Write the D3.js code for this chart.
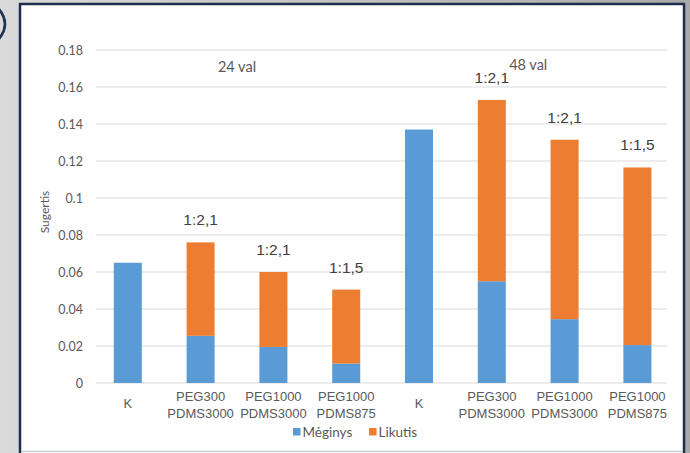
<!DOCTYPE html>
<html>
<head>
<meta charset="utf-8">
<script src="https://cdn.jsdelivr.net/npm/d3@7"></script>
<style>
  html, body { margin: 0; padding: 0; background: #d6d6d6; }
  svg { display: block; }
</style>
</head>
<body>
<svg id="chart" width="690" height="453"></svg>
<script>
// Categories (two-line axis labels) for the 24 h and 48 h groups
const categories = [
  ["K"], ["PEG300", "PDMS3000"], ["PEG1000", "PDMS3000"], ["PEG1000", "PDMS875"],
  ["K"], ["PEG300", "PDMS3000"], ["PEG1000", "PDMS3000"], ["PEG1000", "PDMS875"]
];
const categoryIds = ["K24", "P300_3000_24", "P1000_3000_24", "P1000_875_24",
                     "K48", "P300_3000_48", "P1000_3000_48", "P1000_875_48"];

// Stacked series
const meginys = [0.065, 0.0255, 0.0195, 0.0105, 0.137, 0.055, 0.0345, 0.0205];
const likutis = [0, 0.0505, 0.0405, 0.040, 0, 0.098, 0.097, 0.096];

// Ratio annotations above bars
const ratioLabels = ["", "1:2,1", "1:2,1", "1:1,5", "", "1:2,1", "1:2,1", "1:1,5"];

// Group titles and the two categories they sit between
const groupLabels = ["24 val", "48 val"];
const groupAnchors = [[1, 2], [5, 6]];

const seriesNames = ["Mėginys", "Likutis"];
const seriesColors = ["#5b9bd5", "#ed7d31"];

const yTicks = [0, 0.02, 0.04, 0.06, 0.08, 0.1, 0.12, 0.14, 0.16, 0.18];
const yTickLabels = ["0", "0.02", "0.04", "0.06", "0.08", "0.1", "0.12", "0.14", "0.16", "0.18"];

const svg = d3.select("#chart");
const W = 690, H = 453;

// Slide background
const defs = svg.append("defs");
const bg = defs.append("linearGradient").attr("id", "bg").attr("x1", 0).attr("x2", 1).attr("y1", 0).attr("y2", 0);
bg.append("stop").attr("offset", 0).attr("stop-color", "#dadada");
bg.append("stop").attr("offset", 1).attr("stop-color", "#a9a9a9");
svg.append("rect").attr("width", W).attr("height", H).attr("fill", "url(#bg)");

// Edge of a closing bracket from the neighbouring slide content
svg.append("path")
  .attr("d", "M-2,8 Q12,24 -2,40")
  .attr("fill", "none").attr("stroke", "#1f3350").attr("stroke-width", 2.6);

// Panel
svg.append("rect").attr("x", 20).attr("y", 4).attr("width", 664).attr("height", 460)
  .attr("fill", "#ffffff").attr("stroke", "#1c2f4c").attr("stroke-width", 2.5);
svg.append("line").attr("x1", 22).attr("x2", 682).attr("y1", 451.5).attr("y2", 451.5)
  .attr("stroke", "#c9ced6").attr("stroke-width", 1.5);

// Scales
const x = d3.scaleBand().domain(categoryIds).range([91.4, 673.8]).paddingInner(0.615).paddingOuter(0.3075);
const y = d3.scaleLinear().domain([0, 0.18]).range([383, 50]);

const gridX0 = 96, gridX1 = 667;

// Gridlines
svg.append("g").selectAll("line").data(yTicks).join("line")
  .attr("x1", gridX0).attr("x2", gridX1)
  .attr("y1", d => y(d)).attr("y2", d => y(d))
  .attr("stroke", "#d9d9d9").attr("stroke-width", 1.2);

// Y axis labels
const yAxis = d3.axisLeft(y).tickValues(yTicks).tickSize(0).tickPadding(0)
  .tickFormat((d, i) => yTickLabels[i]);
const yg = svg.append("g").attr("transform", "translate(83,0)").call(yAxis);
yg.select(".domain").remove();
yg.selectAll("text").attr("font-family", "Lato, sans-serif").attr("font-size", 12.5)
  .attr("fill", "#595959");

// Y axis title
svg.append("text").attr("transform", "translate(49,212) rotate(-90)")
  .attr("text-anchor", "middle").attr("font-family", "Lato, sans-serif")
  .attr("font-size", 12).attr("fill", "#595959").text("Sugertis");

// Stacked bars
const rows = categoryIds.map((id, i) => ({ id, Mėginys: meginys[i], Likutis: likutis[i] }));
const stacked = d3.stack().keys(seriesNames)(rows);
svg.append("g").selectAll("g").data(stacked).join("g")
  .attr("fill", (d, i) => seriesColors[i])
  .selectAll("rect").data(d => d).join("rect")
  .attr("x", d => x(d.data.id))
  .attr("width", x.bandwidth())
  .attr("y", d => y(d[1]))
  .attr("height", d => y(d[0]) - y(d[1]));

// Ratio labels above stacked totals
svg.append("g").selectAll("text").data(categoryIds).join("text")
  .attr("x", d => x(d) + x.bandwidth() / 2)
  .attr("y", (d, i) => y(meginys[i] + likutis[i]) - 17)
  .attr("text-anchor", "middle")
  .attr("font-family", "Liberation Sans, Arial, sans-serif").attr("font-size", 15.5)
  .attr("fill", "#404040")
  .text((d, i) => ratioLabels[i]);

// Group titles
svg.append("g").selectAll("text").data(groupLabels).join("text")
  .attr("x", (d, i) => (x(categoryIds[groupAnchors[i][0]]) + x(categoryIds[groupAnchors[i][1]])) / 2 + x.bandwidth() / 2)
  .attr("y", (d, i) => i === 0 ? 71.5 : 70)
  .attr("text-anchor", "middle").attr("font-family", "Lato, sans-serif")
  .attr("font-size", 14.5).attr("fill", "#595959").text(d => d);

// Category axis labels
const xl = svg.append("g").selectAll("text").data(categoryIds).join("text")
  .attr("text-anchor", "middle")
  .attr("font-family", "Liberation Sans, Arial, sans-serif").attr("font-size", 13)
  .attr("fill", "#595959")
  .attr("transform", (d, i) => `translate(${x(d) + x.bandwidth() / 2},${categories[i].length === 1 ? 407.5 : 400.5})`);
xl.selectAll("tspan").data((d, i) => categories[i]).join("tspan")
  .attr("x", 0).attr("dy", (d, j) => j === 0 ? 0 : 17).text(d => d);

// Legend
const legend = svg.append("g").attr("transform", "translate(293,428)");
const legendX = [0, 76];
seriesNames.forEach((name, i) => {
  const g = legend.append("g").attr("transform", `translate(${legendX[i]},0)`);
  g.append("rect").attr("width", 7.5).attr("height", 7.5).attr("fill", seriesColors[i]);
  g.append("text").attr("x", 9.5).attr("y", 8.5).attr("font-family", "Lato, sans-serif")
    .attr("font-size", 13.5).attr("fill", "#595959").text(name);
});
</script>
</body>
</html>
